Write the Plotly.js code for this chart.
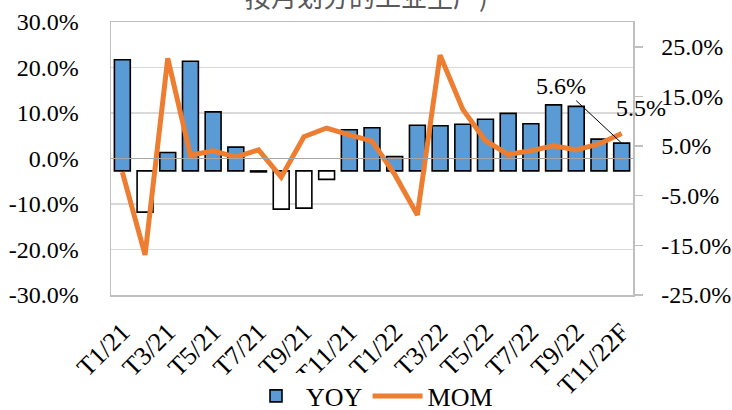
<!DOCTYPE html>
<html><head><meta charset="utf-8">
<script src="https://cdn.plot.ly/plotly-3.0.1.min.js"></script>
<style>html,body{margin:0;padding:0;background:#fff;} #chart{width:732px;height:410px;}</style>
</head><body><div id="chart"></div>
<script>
const months = ['T1/21','T2/21','T3/21','T4/21','T5/21','T6/21','T7/21','T8/21','T9/21','T10/21','T11/21','T12/21',
                'T1/22','T2/22','T3/22','T4/22','T5/22','T6/22','T7/22','T8/22','T9/22','T10/22','T11/22F'];
const yoy = [22.4,-8.3,3.7,22.1,11.9,4.8,-0.2,-7.7,-7.5,-1.7,8.3,8.7,2.9,9.2,9.1,9.4,10.4,11.6,9.5,13.3,13.0,6.4,5.6];
const mom = [-3.0,-21.2,22.0,0.7,1.7,0.3,1.9,-4.1,4.8,6.7,5.2,3.8,-3.5,-12.4,22.7,10.8,3.9,0.9,1.7,2.8,1.9,3.2,5.5];
const xTickVals = ['T1/21','T3/21','T5/21','T7/21','T9/21','T11/21','T1/22','T3/22','T5/22','T7/22','T9/22','T11/22F'];
const leftTickVals = [-30,-20,-10,0,10,20,30];
const leftTickText = ['-30.0%','-20.0%','-10.0%','0.0%','10.0%','20.0%','30.0%'];
const rightTickVals = [-25,-15,-5,5,15,25];
const rightTickText = ['-25.0%','-15.0%','-5.0%','5.0%','15.0%','25.0%'];
const titleText = '按月划分的工业生产)';
const yoyLabel = '5.6%';
const momLabel = '5.5%';

const serif = 'Liberation Serif, Times New Roman, serif';
const barColors = yoy.map(v => v < 0 ? '#FFFFFF' : '#5B9BD5');

const traces = [
  {type:'bar', name:'YOY', x:months, y:yoy, yaxis:'y',
   marker:{color:barColors, line:{color:'#000000', width:1.6}}, hoverinfo:'skip'},
  {type:'scatter', mode:'lines', name:'MOM', x:months, y:mom, yaxis:'y2',
   line:{color:'#ED7D31', width:5}, hoverinfo:'skip'}
];

const layout = {
  width:732, height:410,
  margin:{l:111, r:99, t:22, b:115, autoexpand:false},
  paper_bgcolor:'#fff', plot_bgcolor:'#fff',
  font:{family:serif, size:24, color:'#000'},
  bargap:0.3,
  showlegend:true,
  legend:{orientation:'h', x:0.5, xanchor:'center', y:-0.37, yanchor:'middle',
          font:{family:serif, size:26, color:'#000'}, itemwidth:50, traceorder:'normal'},
  xaxis:{type:'category', categoryorder:'array', categoryarray:months,
         range:[-0.5, months.length - 0.5], autorange:false, automargin:false,
         tickvals:xTickVals, ticktext:xTickVals, tickangle:-45,
         tickfont:{family:serif, size:26, color:'#000'},
         ticklabelstandoff:10,
         showline:true, linecolor:'#BFBFBF', linewidth:1.5, mirror:true,
         ticks:'', showgrid:false, zeroline:false},
  yaxis:{side:'right', range:[-25,30], tickvals:rightTickVals, ticktext:rightTickText,
         automargin:false,
         showgrid:false, zeroline:false, showline:true, linecolor:'#BFBFBF', linewidth:1.5,
         ticks:'outside', ticklen:8, tickcolor:'#BFBFBF', tickwidth:1.5,
         ticklabelstandoff:14,
         tickfont:{family:serif, size:24, color:'#000'}},
  yaxis2:{overlaying:'y', side:'left', range:[-30,30], tickvals:leftTickVals, ticktext:leftTickText,
          automargin:false,
          showgrid:true, gridcolor:'#D9D9D9', gridwidth:1.5,
          zeroline:true, zerolinecolor:'#A6A6A6', zerolinewidth:1.5, zerolinelayer:'above traces',
          showline:true, linecolor:'#BFBFBF', linewidth:1.5, ticks:'',
          ticklabelstandoff:26,
          tickfont:{family:serif, size:24, color:'#000'}},
  annotations:[
    {xref:'paper', yref:'paper', x:0.49, y:1.097, xanchor:'center', yanchor:'middle',
     text:titleText, showarrow:false,
     font:{family:'Noto Sans CJK SC', size:26, color:'#595959'}},
    {xref:'x', yref:'y', x:'T11/22F', y:yoy[22], text:yoyLabel, showarrow:true,
     arrowhead:0, arrowwidth:1, arrowcolor:'#000', ax:-61, ay:-57, standoff:0,
     font:{family:serif, size:24, color:'#000'}},
    {xref:'x', yref:'y2', x:'T11/22F', y:mom[22], text:momLabel, showarrow:false,
     xshift:19, yshift:25, font:{family:serif, size:24, color:'#000'}}
  ]
};

Plotly.newPlot('chart', traces, layout, {staticPlot:true, displayModeBar:false});
</script>
</body></html>
